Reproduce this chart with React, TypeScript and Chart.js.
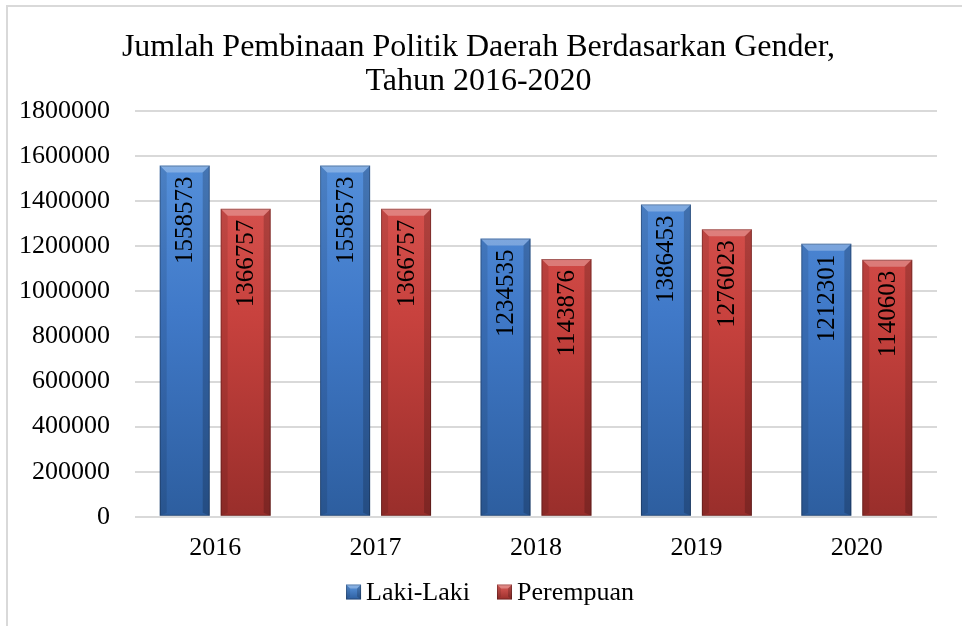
import React, { useEffect, useRef } from "react";
import { Chart, registerables } from "chart.js";

Chart.register(...registerables);

const titleLines = ["Jumlah Pembinaan Politik Daerah Berdasarkan Gender,", "Tahun 2016-2020"];
const years = ["2016", "2017", "2018", "2019", "2020"];
const lakiLaki = [1558573, 1558573, 1234535, 1386453, 1212301];
const perempuan = [1366757, 1366757, 1143876, 1276023, 1140603];
const seriesNames = ["Laki-Laki", "Perempuan"];

const SERIF = "'Liberation Serif', 'Times New Roman', serif";

const palettes = [
  { top: "#5b97e0", mid: "#4079c8", bot: "#2d5e9f", solid: "#3f78c6" },
  { top: "#e05d59", mid: "#c8423e", bot: "#992e2b", solid: "#c6403c" },
];

function gradientFor(idx: number) {
  return (ctx: any) => {
    const chart = ctx.chart;
    const area = chart.chartArea;
    const p = palettes[idx];
    if (!area) return p.solid;
    const g = chart.ctx.createLinearGradient(0, area.top, 0, area.bottom);
    g.addColorStop(0, p.top);
    g.addColorStop(0.5, p.mid);
    g.addColorStop(1, p.bot);
    return g;
  };
}

function drawBevel(ctx: CanvasRenderingContext2D, left: number, top: number, right: number, base: number, b: number) {
  ctx.save();
  ctx.fillStyle = "rgba(255,255,255,0.28)";
  ctx.beginPath();
  ctx.moveTo(left, top);
  ctx.lineTo(right, top);
  ctx.lineTo(right - b, top + b);
  ctx.lineTo(left + b, top + b);
  ctx.closePath();
  ctx.fill();
  ctx.fillStyle = "rgba(0,0,0,0.10)";
  ctx.beginPath();
  ctx.moveTo(left, top);
  ctx.lineTo(left + b, top + b);
  ctx.lineTo(left + b, base - Math.min(3, b));
  ctx.lineTo(left, base);
  ctx.closePath();
  ctx.fill();
  ctx.fillStyle = "rgba(0,0,0,0.18)";
  ctx.beginPath();
  ctx.moveTo(right, top);
  ctx.lineTo(right - b, top + b);
  ctx.lineTo(right - b, base - Math.min(3, b));
  ctx.lineTo(right, base);
  ctx.closePath();
  ctx.fill();
  ctx.strokeStyle = "rgba(0,0,0,0.25)";
  ctx.lineWidth = 1;
  ctx.strokeRect(left + 0.5, top + 0.5, right - left - 1, base - top - 1);
  ctx.restore();
}

const bevelPlugin = {
  id: "bevel",
  afterDatasetsDraw(chart: any) {
    const ctx = chart.ctx;
    chart.data.datasets.forEach((_: any, di: number) => {
      const meta = chart.getDatasetMeta(di);
      meta.data.forEach((el: any) => {
        const w = el.width;
        drawBevel(ctx, el.x - w / 2, el.y, el.x + w / 2, el.base, 7);
      });
    });
  },
};

const labelPlugin = {
  id: "vlabels",
  afterDatasetsDraw(chart: any) {
    const ctx = chart.ctx;
    chart.data.datasets.forEach((ds: any, di: number) => {
      const meta = chart.getDatasetMeta(di);
      meta.data.forEach((el: any, i: number) => {
        ctx.save();
        ctx.translate(el.x, el.y + 11);
        ctx.rotate(-Math.PI / 2);
        ctx.font = `25px ${SERIF}`;
        ctx.fillStyle = "#000";
        ctx.textAlign = "right";
        ctx.textBaseline = "middle";
        ctx.fillText(String(ds.data[i]), 0, 1);
        ctx.restore();
      });
    });
  },
};

const legendPlugin = {
  id: "customLegend",
  afterDraw(chart: any) {
    const ctx = chart.ctx;
    ctx.save();
    ctx.font = `26px ${SERIF}`;
    const box = 15;
    const gapBoxText = 5;
    const gapItems = 27;
    const widths = seriesNames.map((n) => ctx.measureText(n).width);
    const total = widths.reduce((a, w) => a + box + gapBoxText + w, 0) + gapItems * (seriesNames.length - 1);
    let x = 490 - total / 2;
    const cy = 592;
    seriesNames.forEach((n, i) => {
      const p = palettes[i];
      const g = ctx.createLinearGradient(0, cy - box / 2, 0, cy + box / 2);
      g.addColorStop(0, p.top);
      g.addColorStop(1, p.bot);
      ctx.fillStyle = g;
      ctx.fillRect(x, cy - box / 2, box, box);
      drawBevel(ctx, x, cy - box / 2, x + box, cy + box / 2, 4);
      x += box + gapBoxText;
      ctx.fillStyle = "#000";
      ctx.textAlign = "left";
      ctx.textBaseline = "middle";
      ctx.fillText(n, x, cy + 1);
      x += widths[i] + gapItems;
    });
    ctx.restore();
  },
};

export default function App() {
  const ref = useRef<HTMLCanvasElement | null>(null);
  useEffect(() => {
    if (!ref.current) return;
    const chart = new Chart(ref.current, {
      type: "bar",
      data: {
        labels: years,
        datasets: [
          {
            label: seriesNames[0],
            data: lakiLaki,
            backgroundColor: gradientFor(0),
            barPercentage: 0.82,
            categoryPercentage: 0.76,
          },
          {
            label: seriesNames[1],
            data: perempuan,
            backgroundColor: gradientFor(1),
            barPercentage: 0.82,
            categoryPercentage: 0.76,
          },
        ],
      },
      options: {
        animation: false,
        responsive: false,
        maintainAspectRatio: false,
        layout: { padding: { left: 20, right: 25, top: 20, bottom: 54 } },
        scales: {
          x: {
            grid: { display: false },
            border: { display: false },
            ticks: { color: "#000", font: { family: SERIF, size: 26 }, padding: 8 },
          },
          y: {
            min: 0,
            max: 1800000,
            afterFit: (scale: any) => {
              scale.width = 115;
            },
            ticks: {
              stepSize: 200000,
              color: "#000",
              font: { family: SERIF, size: 26 },
              padding: 25,
              callback: (v: any) => String(v),
            },
            grid: { color: "#d9d9d9", lineWidth: 2, drawTicks: false },
            border: { display: false },
          },
        },
        plugins: {
          title: {
            display: true,
            text: titleLines,
            color: "#000",
            font: { family: SERIF, size: 32, weight: "normal", lineHeight: 1.05 },
            padding: { top: 11, bottom: 13 },
          },
          legend: { display: false },
          tooltip: { enabled: false },
        },
      },
      plugins: [bevelPlugin, labelPlugin, legendPlugin],
    });
    return () => chart.destroy();
  }, []);
  return (
    <div style={{ position: "absolute", left: 0, top: 0, width: 962, height: 626, background: "#fff" }}>
      <div
        style={{
          position: "absolute",
          left: 6,
          top: 5,
          width: 970,
          height: 640,
          borderTop: "2px solid #d9d9d9",
          borderLeft: "2px solid #d9d9d9",
          boxSizing: "border-box",
        }}
      />
      <canvas ref={ref} width={962} height={626} style={{ position: "absolute", left: 0, top: 0 }} />
    </div>
  );
}
